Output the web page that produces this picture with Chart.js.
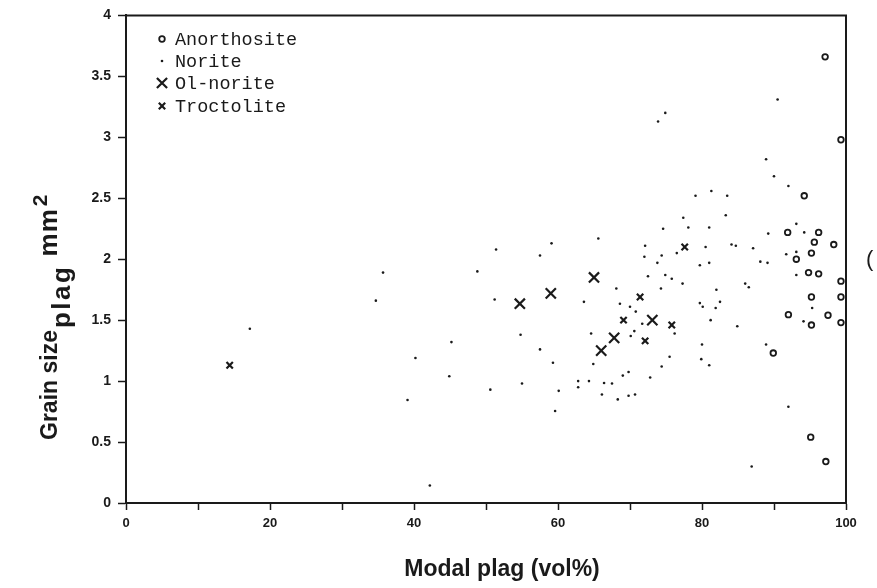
<!DOCTYPE html>
<html><head><meta charset="utf-8">
<script src="https://cdn.jsdelivr.net/npm/chart.js@4/dist/chart.umd.min.js"></script>
<style>html,body{margin:0;padding:0;background:#fff}canvas{display:block}</style>
</head><body>
<canvas id="c" width="877" height="588"></canvas>
<script>
// ---- data ----
const seriesNames = ['Anorthosite', 'Norite', 'Ol-norite', 'Troctolite'];

const anorthositeX = [97.1, 99.3, 94.2, 91.9, 96.2, 95.6, 98.3, 95.2, 93.1, 94.8, 96.2, 99.3, 95.2, 99.3, 92.0, 97.5, 95.2, 99.3, 89.9, 95.1, 97.2];
const anorthositeY = [3.66, 2.98, 2.52, 2.22, 2.22, 2.14, 2.12, 2.05, 2.00, 1.89, 1.88, 1.82, 1.69, 1.69, 1.545, 1.54, 1.46, 1.48, 1.23, 0.54, 0.34];

const noriteX = [35.7, 34.7, 17.2, 40.2, 39.1,
  51.4, 59.1, 57.5, 65.6, 48.8, 51.2, 63.6, 54.8, 57.5, 64.6, 45.2, 44.9, 59.3, 64.9, 50.6, 55.0, 60.1, 62.8, 62.8, 64.3, 59.6, 42.2,
  73.9, 74.9, 79.1, 81.3, 83.5, 83.3, 77.4, 74.6, 78.1, 81.0, 72.1, 80.5, 84.1, 84.7, 72.0, 74.4, 76.5, 73.8, 79.7, 81.0, 72.5, 74.9, 75.8, 77.3, 68.1, 74.3, 82.0, 68.6, 70.0, 70.8, 79.7, 80.1, 82.5, 81.9, 71.7, 76.2, 81.2, 84.9, 70.6, 70.1, 80.0, 75.5, 74.4, 79.9, 81.0, 69.8, 69.0, 72.8, 66.4, 67.5, 66.1, 68.3, 69.8, 70.7,
  90.5, 88.9, 90.0, 92.0, 93.1, 89.2, 94.2, 87.1, 91.7, 93.1, 88.1, 89.1, 93.1,
  86.0, 86.5, 95.3, 94.1, 88.9, 92.0, 86.9];
const noriteY = [1.89, 1.66, 1.43, 1.19, 0.845,
  2.08, 2.13, 2.03, 2.17, 1.90, 1.67, 1.65, 1.38, 1.26, 1.39, 1.32, 1.04, 1.15, 1.14, 0.93, 0.98, 0.92, 1.00, 0.95, 1.00, 0.755, 0.144,
  3.13, 3.20, 2.52, 2.56, 2.52, 2.36, 2.34, 2.25, 2.26, 2.26, 2.11, 2.10, 2.12, 2.11, 2.02, 2.03, 2.05, 1.97, 1.95, 1.97, 1.86, 1.87, 1.84, 1.80, 1.76, 1.76, 1.75, 1.635, 1.61, 1.57, 1.64, 1.61, 1.65, 1.60, 1.47, 1.39, 1.50, 1.45, 1.41, 1.37, 1.30, 1.20, 1.12, 1.18, 1.13, 1.075, 1.045, 1.03, 0.985, 0.98, 0.89, 0.85, 0.88, 0.89,
  3.31, 2.82, 2.68, 2.60, 2.29, 2.21, 2.22, 2.09, 2.04, 2.06, 1.98, 1.97, 1.87,
  1.80, 1.77, 1.60, 1.49, 1.30, 0.79, 0.30];

const olNoriteX = [54.7, 59.0, 65.0, 66.0, 67.8, 73.1];
const olNoriteY = [1.635, 1.72, 1.85, 1.25, 1.355, 1.50];

const troctoliteX = [14.4, 77.6, 71.4, 69.1, 75.8, 72.1];
const troctoliteY = [1.13, 2.10, 1.69, 1.50, 1.46, 1.33];

const xTickLabels = ['0', '20', '40', '60', '80', '100'];
const yTickLabels = ['0', '0.5', '1', '1.5', '2', '2.5', '3', '3.5', '4'];

const xTitle = 'Modal plag (vol%)';
const yTitleMain = 'Grain size';
const yTitleSub = 'plag';
const yTitleUnit = ' mm';
const yTitleSup = '2';

// ---- build ----
const pts = (xs, ys) => xs.map((x, i) => ({x: x, y: ys[i]}));
const INK = '#1a1a1a';

const datasets = [
  {label: seriesNames[0], data: pts(anorthositeX, anorthositeY), pointStyle: 'circle', pointRadius: 2.8, borderWidth: 1.8, borderColor: INK, backgroundColor: 'rgba(255,255,255,0)'},
  {label: seriesNames[1], data: pts(noriteX, noriteY), pointStyle: 'circle', pointRadius: 1.3, borderWidth: 0, borderColor: INK, backgroundColor: INK},
  {label: seriesNames[2], data: pts(olNoriteX, olNoriteY), pointStyle: 'crossRot', pointRadius: 7.2, borderWidth: 2.2, borderColor: INK, backgroundColor: INK},
  {label: seriesNames[3], data: pts(troctoliteX, troctoliteY), pointStyle: 'crossRot', pointRadius: 4.5, borderWidth: 2.2, borderColor: INK, backgroundColor: INK}
];
datasets.forEach(d => { d.clip = false; d.pointHoverRadius = d.pointRadius; });

const decor = {
  id: 'decor',
  afterDraw(chart) {
    const ctx = chart.ctx, a = chart.chartArea;
    ctx.save();
    // frame top & right
    ctx.strokeStyle = INK; ctx.lineWidth = 2;
    ctx.beginPath();
    ctx.moveTo(a.left, a.top); ctx.lineTo(a.right, a.top); ctx.lineTo(a.right, a.bottom);
    ctx.stroke();

    // legend
    const legendY = [39, 61, 83, 106];
    ctx.font = '18.5px "Liberation Mono"';
    ctx.textBaseline = 'middle';
    ctx.textAlign = 'left';
    chart.data.datasets.forEach((d, i) => {
      ctx.strokeStyle = d.borderColor;
      ctx.fillStyle = d.backgroundColor;
      ctx.lineWidth = d.borderWidth;
      Chart.helpers.drawPoint(ctx, {pointStyle: d.pointStyle, radius: d.pointRadius, borderWidth: d.borderWidth, rotation: 0}, 162, legendY[i]);
      ctx.fillStyle = INK;
      ctx.fillText(d.label, 175, legendY[i] + 1);
    });

    // x title
    ctx.fillStyle = INK;
    ctx.textBaseline = 'alphabetic';
    ctx.textAlign = 'center';
    ctx.font = 'bold 23px "Liberation Sans"';
    ctx.fillText(xTitle, 502, 576);

    // y title (rotated with subscript / superscript)
    ctx.save();
    ctx.translate(57, 440);
    ctx.rotate(-Math.PI / 2);
    ctx.textAlign = 'left';
    let cx = 0;
    ctx.font = 'bold 23px "Liberation Sans"';
    ctx.fillText(yTitleMain, cx, 0); cx += ctx.measureText(yTitleMain).width + 2;
    ctx.font = 'bold 26px "Liberation Sans"';
    ctx.letterSpacing = '2.5px';
    ctx.fillText(yTitleSub, cx, 13); cx += ctx.measureText(yTitleSub).width;
    ctx.letterSpacing = '1px';
    ctx.font = 'bold 26px "Liberation Sans"';
    ctx.fillText(yTitleUnit, cx, 0); cx += ctx.measureText(yTitleUnit).width;
    ctx.letterSpacing = '0px';
    ctx.font = 'bold 21px "Liberation Sans"';
    ctx.fillText(yTitleSup, cx + 2, -10);
    ctx.restore();

    // stray glyph at right edge of the scan
    ctx.font = '22px "Liberation Sans"';
    ctx.textAlign = 'left';
    ctx.fillText('(', 866, 266);
    ctx.restore();
  }
};

new Chart(document.getElementById('c'), {
  type: 'scatter',
  data: {datasets: datasets},
  options: {
    responsive: false,
    animation: false,
    devicePixelRatio: 1,
    layout: {padding: {left: 0, top: 12, right: 31, bottom: 0}},
    plugins: {legend: {display: false}, tooltip: {enabled: false}},
    events: [],
    scales: {
      x: {
        type: 'linear', min: 0, max: 100,
        afterFit(s) { s.height = 85; },
        border: {display: true, color: INK, width: 2},
        grid: {drawOnChartArea: false, drawTicks: true, tickLength: 7, tickColor: INK, tickWidth: 1.5},
        ticks: {
          stepSize: 10, autoSkip: false, maxRotation: 0, padding: 6, color: INK,
          font: {family: '"Liberation Sans"', size: 13, weight: 'bold'},
          callback(v) { return (v % 20 === 0) ? xTickLabels[v / 20] : ''; }
        }
      },
      y: {
        type: 'linear', min: 0, max: 4,
        afterFit(s) { s.width = 126; },
        border: {display: true, color: INK, width: 2},
        grid: {drawOnChartArea: false, drawTicks: true, tickLength: 8, tickColor: INK, tickWidth: 1.5},
        ticks: {
          stepSize: 0.5, autoSkip: false, padding: 7, color: INK,
          font: {family: '"Liberation Sans"', size: 14, weight: 'bold'},
          callback(v) { return yTickLabels[Math.round(v * 2)]; }
        }
      }
    }
  },
  plugins: [decor]
});
</script>
</body></html>
